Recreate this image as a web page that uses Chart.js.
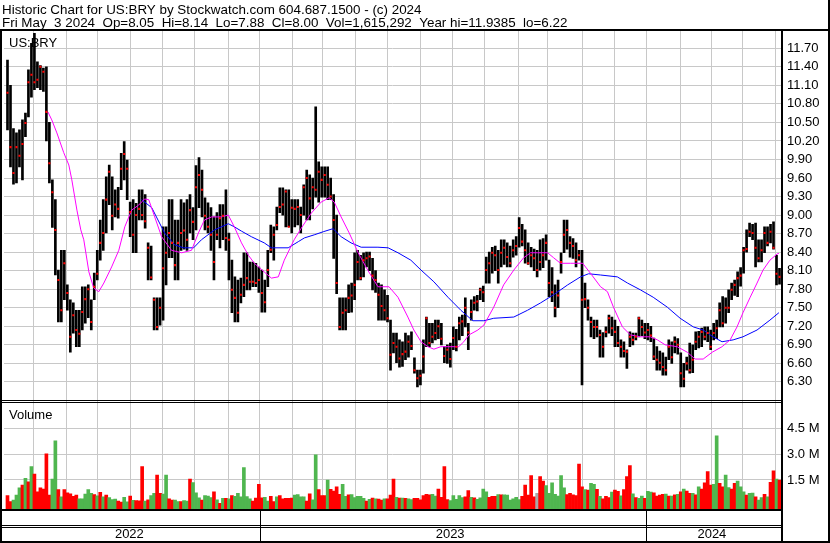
<!DOCTYPE html>
<html><head><meta charset="utf-8">
<script src="https://cdn.jsdelivr.net/npm/chart.js@4.4.1/dist/chart.umd.min.js"></script>
<style>html,body{margin:0;padding:0;background:#fff}#wrap{width:830px;height:543px;position:relative}</style>
</head><body><div id="wrap"><canvas id="c" width="830" height="543"></canvas></div>
<script>
// ---- text ----
const headerLines = [
  'Historic Chart for US:BRY by Stockwatch.com 604.687.1500 - (c) 2024',
  'Fri May  3 2024  Op=8.05  Hi=8.14  Lo=7.88  Cl=8.00  Vol=1,615,292  Year hi=11.9385  lo=6.22'
];
const symbolLabel = 'US:BRY';
const volumeLabel = 'Volume';
const priceTicks = [6.30,6.60,6.90,7.20,7.50,7.80,8.10,8.40,8.70,9.00,9.30,9.60,9.90,10.20,10.50,10.80,11.10,11.40,11.70];
const volumeTicks = [1.5,3.0,4.5];
const yearLabels = ['2022','2023','2024'];
// positions on the bar-index axis (each bar = 2 trading days)
const yearCenters = [40.73,147.93,235.4];
const yearBreaks = [84.27,213.5];
const monthStarts = [8.73,19.6,30.07,41.27,51.73,62.6,73.73,84.27,95.4,105.4,116.27,126.83,137.93,148.73,159.5,170.73,180.6,192.07,202.83,213.5,225.07,235.4,245.73,256.5];

// ---- price bars ----
const highs = [
11.51,11.10,10.40,10.33,10.38,10.54,10.65,11.35,11.78,11.94,
11.48,11.42,11.38,11.40,10.50,9.57,9.25,8.11,8.43,8.43,
7.87,7.63,7.58,7.46,7.46,7.84,7.84,7.87,7.63,8.06,
8.43,8.92,9.25,9.62,9.81,9.62,9.41,9.45,10.00,10.19,
9.89,9.21,9.25,9.19,9.41,9.41,9.33,8.55,8.50,7.66,
7.66,7.66,8.81,8.81,9.25,9.25,8.92,8.92,9.25,9.20,
9.25,9.33,9.12,9.80,9.93,9.73,9.28,9.20,9.12,8.97,
9.04,9.17,9.17,9.41,8.71,8.27,8.00,7.95,7.98,8.39,
8.39,8.24,8.24,8.22,8.16,8.11,7.95,8.43,8.84,8.81,
9.13,9.44,9.44,9.41,9.41,9.25,9.25,9.25,9.13,9.49,
9.73,9.65,9.60,10.75,9.86,9.78,9.78,9.78,9.60,9.33,
9.00,7.66,7.66,7.66,7.87,7.90,8.39,8.43,8.35,8.39,
8.40,8.40,8.30,8.10,7.90,7.87,7.79,7.70,7.30,7.09,
7.09,6.98,6.95,7.09,7.05,7.11,6.69,6.49,6.49,6.98,
7.35,7.25,7.25,7.30,7.30,7.25,6.87,6.90,6.93,7.19,
7.15,7.35,7.38,7.66,7.25,7.63,7.68,7.70,7.82,7.85,
8.32,8.40,8.48,8.50,8.43,8.60,8.60,8.55,8.50,8.60,
8.65,8.96,8.85,8.76,8.55,8.48,8.45,8.43,8.60,8.62,
8.68,8.27,8.15,7.87,7.95,8.39,8.92,8.92,8.65,8.62,
8.55,8.43,8.43,7.90,7.63,7.35,7.30,7.30,7.14,7.10,
7.19,7.38,7.35,7.30,7.20,6.98,6.95,6.82,7.11,7.09,
7.09,7.35,7.30,7.25,7.25,7.20,7.01,6.87,6.80,6.77,
6.70,6.98,6.95,7.03,7.00,6.77,6.60,6.70,6.93,6.90,
7.11,7.12,7.17,7.19,7.19,7.14,7.25,7.30,7.58,7.68,
7.66,7.79,7.90,7.95,8.08,8.15,8.48,8.76,8.87,8.85,
8.87,8.60,8.60,8.81,8.81,8.85,8.89,8.35,8.14];
const lows = [
10.38,9.78,9.50,9.52,9.78,9.57,10.27,10.59,10.91,11.03,
11.06,11.03,11.00,10.20,9.52,8.80,8.03,7.27,7.27,7.63,
7.46,6.78,7.09,6.87,6.87,7.14,7.25,7.34,7.14,7.63,
7.95,8.27,8.43,8.71,9.17,8.76,8.97,8.95,9.41,9.57,
9.25,8.65,8.39,8.39,8.92,8.92,8.79,7.95,7.95,7.14,
7.14,7.22,7.30,7.87,8.31,8.31,7.95,7.95,8.43,8.45,
8.43,8.71,8.60,8.76,9.12,8.97,8.76,8.71,8.43,7.95,
8.60,8.47,8.60,8.43,7.95,7.42,7.27,7.27,7.58,7.68,
7.79,7.79,7.84,7.84,7.75,7.43,7.43,7.84,8.39,8.27,
8.76,9.04,9.00,8.81,8.81,8.71,8.81,8.84,8.71,9.00,
8.92,8.92,9.10,9.29,9.21,9.29,9.29,9.25,9.25,8.30,
7.73,7.14,7.14,7.14,7.42,7.43,7.63,7.95,7.95,8.00,
8.16,8.10,7.79,7.75,7.30,7.30,7.30,7.27,6.49,6.77,
6.61,6.54,6.55,6.66,6.70,6.82,6.44,6.22,6.25,6.44,
6.87,6.87,6.93,6.98,7.00,6.90,6.61,6.60,6.54,6.82,
6.80,6.98,7.05,7.19,6.82,7.30,7.46,7.45,7.63,7.60,
7.90,7.90,8.06,8.10,7.90,8.16,8.20,8.16,8.16,8.32,
8.35,8.48,8.50,8.22,8.20,8.16,8.10,8.00,8.11,8.15,
8.27,7.68,7.60,7.35,7.50,8.06,8.39,8.45,8.32,8.30,
8.16,8.27,6.25,7.50,7.30,7.03,7.00,7.03,6.70,6.70,
7.03,7.09,7.05,6.87,6.87,6.70,6.70,6.52,6.87,6.90,
6.98,7.03,7.05,7.00,6.98,6.95,6.66,6.49,6.49,6.41,
6.41,6.66,6.60,6.77,6.75,6.22,6.22,6.49,6.44,6.45,
6.82,6.85,6.87,6.98,6.95,6.82,6.98,7.00,7.19,7.19,
7.25,7.42,7.63,7.70,7.68,7.85,8.06,8.40,8.65,8.60,
8.16,8.24,8.24,8.39,8.50,8.55,8.45,7.87,7.88];
const closes = [
10.98,10.10,9.68,10.10,9.96,10.15,10.49,11.15,11.27,11.15,
11.19,11.40,11.32,10.67,9.84,9.37,8.76,7.95,7.46,8.22,
7.74,7.03,7.38,7.14,7.08,7.43,7.64,7.80,7.27,7.84,
8.05,8.55,8.71,9.25,9.70,8.99,9.17,9.10,9.75,9.99,
9.75,9.05,8.68,9.00,9.10,9.00,8.90,8.47,7.99,7.63,
7.19,7.50,8.14,8.39,8.71,8.55,8.19,8.55,8.71,8.75,
8.60,9.08,8.89,9.45,9.65,9.41,8.99,8.81,8.68,8.24,
8.68,8.95,8.99,8.63,8.60,7.79,7.66,7.42,7.71,7.87,
7.98,7.92,7.92,7.90,7.95,7.74,7.59,8.11,8.44,8.68,
8.84,9.13,9.17,9.38,8.81,9.12,9.10,9.13,9.00,9.45,
9.60,9.27,9.45,9.41,9.70,9.57,9.65,9.49,9.30,8.92,
7.90,7.19,7.42,7.46,7.66,7.70,7.87,8.24,7.98,8.27,
8.30,8.33,8.02,7.95,7.71,7.53,7.46,7.33,6.74,6.93,
6.87,6.68,6.75,6.79,6.95,6.88,6.49,6.36,6.40,6.71,
7.33,6.93,7.03,7.09,7.20,7.00,6.72,6.82,6.67,7.01,
6.87,7.25,7.28,7.50,7.10,7.43,7.58,7.60,7.79,7.75,
8.11,8.22,8.39,8.35,8.11,8.39,8.47,8.32,8.22,8.43,
8.50,8.79,8.57,8.43,8.22,8.35,8.30,8.11,8.24,8.35,
8.55,7.90,7.75,7.50,7.70,8.24,8.68,8.76,8.55,8.50,
8.27,8.35,7.63,7.64,7.50,7.27,7.19,7.19,7.06,6.87,
7.11,7.33,7.17,7.11,6.93,6.87,6.80,6.79,7.03,6.98,
7.03,7.33,7.19,7.10,7.14,7.05,6.71,6.66,6.61,6.54,
6.49,6.87,6.70,6.95,6.90,6.44,6.35,6.60,6.49,6.66,
6.95,7.03,7.11,7.03,7.09,6.87,7.09,7.17,7.46,7.25,
7.50,7.50,7.79,7.87,7.98,8.02,8.43,8.45,8.73,8.71,
8.47,8.30,8.43,8.71,8.55,8.73,8.47,8.05,8.00];

// ---- moving averages ----
const maFastX = [13.5,14.8,16.5,18.8,20.5,21.5,23.2,24.5,25.5,27.2,28.8,30.5,32.2,34.8,37.2,39.2,41.5,43.8,45.8,47.2,49.2,51.5,54.8,58.2,61.5,63.8,65.8,68.2,71.5,73.8,75.8,78.2,80.5,82.5,85.8,88.2,90.5,92.5,95.8,98.2,101.5,104.8,107.5,109.2,111.5,114.2,117.2,120.5,123.8,125.5,127.5,130.5,133.8,135.8,138.2,140.5,142.5,144.8,148.2,150.8,152.5,154.2,157.2,159.2,162.5,165.8,169.2,172.5,174.8,177.2,180.5,182.5,184.8,188.2,192.2,194.8,198.2,200.5,202.5,205.5,208.2,211.5,214.8,217.2,219.8,223.8,227.2,229.8,232.5,235.5,238.8,241.5,243.8,245.8,248.2,250.5,252.5,254.8,257.2,257.8];
const maFastY = [10.67,10.54,10.33,10.01,9.81,9.57,9.08,8.76,8.60,8.08,7.82,7.76,7.90,8.16,8.43,8.81,9.08,9.16,9.26,9.25,8.97,8.65,8.43,8.39,8.43,8.71,8.92,8.97,8.97,9.00,8.81,8.55,8.35,8.22,8.08,7.98,8.00,8.27,8.60,8.79,9.03,9.21,9.28,9.21,8.97,8.71,8.39,8.10,7.84,7.84,7.84,7.67,7.35,7.14,6.95,6.87,6.83,6.87,6.87,6.87,6.95,7.06,7.14,7.22,7.51,7.87,8.11,8.31,8.39,8.39,8.39,8.31,8.22,8.22,8.22,8.06,7.84,7.76,7.51,7.19,7.06,7.03,7.03,6.98,6.90,6.87,6.78,6.67,6.67,6.78,6.87,6.98,7.19,7.42,7.67,7.90,8.11,8.27,8.37,8.38];
const maSlowX = [44.8,48.2,52.5,55.8,58.8,62.2,64.8,69.2,73.8,75.8,78.2,81.5,85.8,88.2,93.8,97.2,99.2,102.5,105.5,108.8,111.5,114.8,118.2,123.8,127.2,130.5,134.8,138.2,142.5,147.2,151.5,155.5,159.2,162.5,169.2,173.8,178.2,182.5,187.2,191.5,194.2,198.2,203.8,207.2,211.5,215.8,220.5,224.8,229.2,232.5,235.8,238.8,242.5,245.8,250.5,254.8,257.8];
const maSlowY = [9.25,9.12,8.71,8.52,8.47,8.47,8.60,8.76,8.86,8.81,8.74,8.65,8.55,8.47,8.47,8.57,8.63,8.68,8.73,8.78,8.65,8.55,8.48,8.48,8.47,8.39,8.27,8.11,7.92,7.67,7.46,7.29,7.29,7.33,7.35,7.46,7.58,7.71,7.87,8.00,8.05,8.03,8.00,7.90,7.79,7.67,7.51,7.33,7.19,7.14,7.03,6.95,6.98,7.03,7.14,7.30,7.42];

// ---- volume (millions) and day direction (1 up, -1 down, 0 unchanged) ----
const volumes = [
0.6,0.25,0.33,0.62,1.05,1.2,1.6,1.4,2.28,1.85,
0.82,1.05,0.97,3.02,0.62,1.56,3.77,0.95,0.52,0.95,
0.75,0.7,0.55,0.62,0.4,0.41,0.68,0.95,0.72,0.65,
0.58,0.78,0.52,0.62,0.48,0.36,0.39,0.27,0.22,0.5,
0.23,0.56,0.32,0.31,0.29,2.28,0.27,0.35,0.6,0.72,
1.79,0.72,0.68,1.79,0.4,0.33,0.33,0.25,0.25,0.31,
0.27,1.56,1.35,0.75,0.47,0.33,0.6,0.57,0.48,0.82,
0.35,0.15,0.43,0.43,0.41,0.6,0.55,0.72,0.52,2.22,
0.54,0.4,0.27,0.45,1.25,0.47,0.5,0.27,0.55,0.25,
0.52,0.6,0.41,0.43,0.43,0.45,0.62,0.66,0.52,0.52,
0.27,0.7,0.35,2.96,0.95,0.6,0.6,1.5,0.96,0.86,
1.11,0.67,1.25,0.55,0.64,0.66,0.48,0.55,0.55,0.43,
0.27,0.38,0.45,0.41,0.39,0.33,0.41,0.41,0.62,1.56,
0.5,0.45,0.45,0.43,0.41,0.36,0.43,0.43,0.35,0.6,
0.67,0.64,0.67,0.57,0.97,0.5,2.28,0.36,0.3,0.6,
0.38,0.6,0.48,0.52,0.88,0.5,0.47,0.38,0.46,0.97,
0.82,0.5,0.55,0.55,0.66,0.64,0.64,0.62,0.33,0.41,
0.5,0.36,0.55,1.21,0.62,1.75,0.52,0.72,1.7,1.44,
1.17,0.72,1.34,0.67,0.57,1.75,1.05,0.66,0.72,0.64,
0.6,2.43,1.11,0.95,0.91,1.3,1.25,0.96,0.55,0.4,
0.55,0.48,0.8,0.91,0.84,0.58,0.95,1.7,2.34,0.7,
0.48,0.43,0.57,0.43,0.84,0.8,0.75,0.57,0.62,0.67,
0.69,0.57,0.57,0.64,0.67,0.82,0.97,0.86,0.72,0.72,
0.64,1.1,0.97,1.33,1.99,1.2,1.25,4.07,1.3,1.1,
1.79,1.06,0.98,1.3,1.44,1.1,0.82,0.62,0.72,0.74,
0.52,0.33,0.48,0.67,0.52,1.36,2.03,1.56,1.5];
const volDir = [
-1,-1,1,1,1,-1,1,-1,1,-1,
-1,-1,-1,-1,-1,1,1,-1,1,-1,
-1,-1,-1,-1,1,1,1,1,1,-1,
1,-1,1,-1,1,1,1,-1,-1,1,
1,-1,1,-1,-1,-1,1,-1,1,1,
-1,-1,1,1,-1,-1,1,1,-1,1,
1,-1,1,1,1,-1,1,1,1,-1,
1,-1,1,-1,1,-1,1,1,1,1,
1,1,-1,-1,-1,-1,1,1,-1,-1,
1,-1,-1,-1,-1,-1,1,1,1,1,
-1,-1,1,1,-1,-1,-1,1,-1,-1,
-1,-1,1,1,-1,1,1,1,1,1,
-1,1,-1,1,-1,-1,1,-1,-1,-1,
1,-1,1,-1,1,1,-1,-1,-1,-1,
-1,-1,1,1,-1,-1,-1,-1,1,1,
1,1,1,-1,-1,1,-1,1,1,1,
1,-1,-1,-1,1,-1,1,1,1,1,
1,1,-1,-1,-1,-1,-1,0,-1,-1,
1,1,1,1,1,1,1,-1,-1,-1,
-1,-1,-1,1,-1,1,1,-1,1,-1,
-1,-1,1,-1,-1,1,-1,-1,-1,1,
-1,1,1,-1,1,1,-1,-1,-1,-1,
1,-1,1,-1,1,-1,1,-1,-1,1,
-1,1,-1,-1,-1,-1,1,1,-1,-1,
1,1,-1,-1,1,1,1,-1,1,1,
-1,1,1,-1,1,-1,-1,1,-1];

// ---- styling ----
const FONT = "'Liberation Sans', Arial, sans-serif";
const GRID = '#c8c8c8';
const X_MIN = -1.1667, X_MAX = 258.5;
const P_MIN = 5.983, P_MAX = 11.979;
const V_MIN = -0.241, V_MAX = 6.055;
const dirColor = d => d > 0 ? '#4fb64f' : (d < 0 ? '#ff0000' : '#a8a8a8');

Chart.defaults.font.family = FONT;

const framePlugin = {
  id: 'framePlugin',
  afterDraw(chart) {
    const ctx = chart.ctx;
    const xs = chart.scales.x;
    const ca = chart.chartArea;
    const sep = Math.round(chart.scales.y.bottom);
    const rowSep = Math.round(xs.bottom);
    ctx.save();
    ctx.fillStyle = '#000';
    ctx.fillRect(0, 29, 830, 2);              // header rule
    ctx.fillRect(0, 29, 2, 514);              // left border
    ctx.fillRect(781, 29, 2, 514);            // plot / axis divider
    ctx.fillRect(828, 0, 2, 543);             // right border
    ctx.fillRect(0, sep - 2, 781, 1);         // price / volume separator
    ctx.fillRect(0, sep, 781, 1);
    ctx.fillRect(0, Math.round(ca.bottom) - 1, 781, 2);  // volume bottom
    ctx.fillRect(0, rowSep - 2, 781, 1);      // date rows separator
    ctx.fillRect(0, rowSep, 781, 1);
    ctx.fillRect(0, 541, 830, 2);             // bottom border
    yearBreaks.forEach(v => {
      const px = Math.round(xs.getPixelForValue(v));
      ctx.fillRect(px, Math.round(ca.bottom), 1, 541 - Math.round(ca.bottom));
    });
    ctx.font = '13px ' + FONT;
    ctx.textBaseline = 'alphabetic';
    ctx.fillStyle = '#000';
    ctx.fillText(symbolLabel, 9, 46.5);
    ctx.fillText(volumeLabel, 9, 418.5);
    ctx.restore();
  }
};

new Chart(document.getElementById('c').getContext('2d'), {
  data: {
    datasets: [
      { type: 'bar', data: highs.map((h, i) => ({ x: i, y: [lows[i], h] })),
        backgroundColor: '#000', barThickness: 2, grouped: false,
        xAxisID: 'x', yAxisID: 'y', order: 5 },
      { type: 'bar', data: volumes.map((v, i) => ({ x: i, y: v })),
        backgroundColor: volDir.map(dirColor), barThickness: 3, grouped: false,
        base: V_MIN, xAxisID: 'x', yAxisID: 'yv', order: 5 },
      { type: 'line', data: maSlowX.map((x, i) => ({ x, y: maSlowY[i] })),
        borderColor: '#0000ff', borderWidth: 1, pointRadius: 0, tension: 0, fill: false,
        xAxisID: 'x', yAxisID: 'y', order: 3 },
      { type: 'line', data: maFastX.map((x, i) => ({ x, y: maFastY[i] })),
        borderColor: '#ff00ff', borderWidth: 1, pointRadius: 0, tension: 0, fill: false,
        xAxisID: 'x', yAxisID: 'y', order: 2 },
      { type: 'scatter', data: closes.map((c, i) => ({ x: i, y: c })),
        pointStyle: 'rect', pointRadius: 1.45, borderWidth: 0,
        backgroundColor: '#ff0000', xAxisID: 'x', yAxisID: 'y', order: 1 }
    ]
  },
  options: {
    responsive: false, maintainAspectRatio: false, animation: false, devicePixelRatio: 1,
    layout: { padding: { left: 2, right: 0, top: 0, bottom: 0 } },
    plugins: {
      legend: { display: false }, tooltip: { enabled: false },
      title: { display: true, text: headerLines, align: 'start', color: '#000',
        font: { family: FONT, size: 13.4, weight: 'normal', lineHeight: 13 / 13.4 },
        padding: { top: 4, bottom: 1 } }
    },
    scales: {
      x: { type: 'linear', position: 'bottom', min: X_MIN, max: X_MAX, bounds: 'data', offset: false,
        afterBuildTicks: s => { s.ticks = monthStarts.map(v => ({ value: v })); },
        ticks: { display: false }, grid: { color: GRID, lineWidth: 1, drawTicks: false, offset: false },
        border: { display: false }, afterFit: s => { s.height = 17; } },
      xy: { type: 'linear', position: 'bottom', min: X_MIN, max: X_MAX, bounds: 'data', offset: false,
        afterBuildTicks: s => { s.ticks = yearCenters.map(v => ({ value: v })); },
        ticks: { callback: (v, i) => yearLabels[i], color: '#000', font: { size: 13 },
          padding: 0, maxRotation: 0, autoSkip: false },
        grid: { display: false, drawTicks: false, offset: false }, border: { display: false },
        afterFit: s => { s.height = 16; } },
      y: { type: 'linear', position: 'right', stack: 'panes', stackWeight: 370.5,
        min: P_MIN, max: P_MAX, bounds: 'data',
        afterBuildTicks: s => { s.ticks = priceTicks.map(v => ({ value: v })); },
        ticks: { callback: v => v.toFixed(2), color: '#000', font: { size: 13 }, padding: 6, autoSkip: false },
        grid: { color: GRID, lineWidth: 1, drawTicks: false }, border: { display: false },
        afterFit: s => { s.width = 49; } },
      yv: { type: 'linear', position: 'right', stack: 'panes', stackWeight: 108.5,
        min: V_MIN, max: V_MAX, bounds: 'data',
        afterBuildTicks: s => { s.ticks = volumeTicks.map(v => ({ value: v })); },
        ticks: { callback: v => v.toFixed(1) + ' M', color: '#000', font: { size: 13 }, padding: 6, autoSkip: false },
        grid: { color: GRID, lineWidth: 1, drawTicks: false }, border: { display: false },
        afterFit: s => { s.width = 49; } }
    }
  },
  plugins: [framePlugin]
});
</script>
</body></html>
